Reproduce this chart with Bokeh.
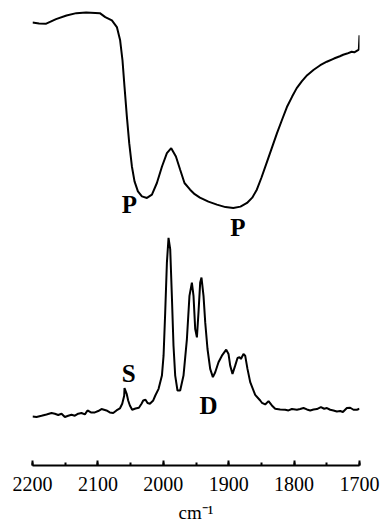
from bokeh.plotting import figure
from bokeh.models import Range1d, SingleIntervalTicker, ColumnDataSource, Title
from bokeh.core.properties import value
from bokeh.embed import file_html
from bokeh.resources import INLINE

# ---- data (arbitrary intensity units) ----
top_wn = [2200, 2190, 2179, 2164, 2148, 2133, 2118, 2097, 2088.7, 2078.6, 2071, 2066,
          2062.4, 2059.3, 2055.7, 2052.1, 2048, 2044, 2038.8, 2032.7, 2025, 2017.4,
          2009.8, 2002, 1994.5, 1987.9, 1980.7, 1974.2, 1967.6, 1959, 1952, 1944,
          1931, 1918, 1905, 1893, 1882, 1872, 1864, 1857, 1850, 1842, 1834, 1826,
          1818, 1811, 1803, 1796, 1788, 1780, 1770, 1760, 1750, 1739, 1730, 1725,
          1719, 1712, 1708, 1701, 1700]
top_val = [445, 444, 443.7, 448.3, 452, 454.3, 455, 454.3, 450.3, 447, 440.3, 427,
           407, 380.3, 350.3, 323.7, 300.3, 285.3, 275.3, 270.3, 268.7, 272,
           283.7, 300.3, 313.7, 318.7, 310.3, 297, 283.7, 277, 272.5, 269,
           265, 262, 259.5, 258.7, 260, 263.7, 269, 277, 289, 304, 319, 334,
           348, 360, 370.5, 379, 386, 392, 397.5, 402, 405.5, 408.7, 411, 412.5,
           413.7, 415.5, 415, 417.7, 432]

bot_wn = [2200, 2193.9, 2186.2, 2178.6, 2170.9, 2165.8, 2160.7, 2155.6, 2150.5, 2145.4,
          2140.4, 2135.2, 2130.1, 2125.1, 2119.9, 2115.9, 2110.7, 2104.6, 2099.5, 2094.5,
          2086.9, 2081.8, 2076.6, 2071.6, 2066.4, 2062.8, 2059.8, 2059.3, 2056, 2053.7,
          2051.1, 2047.6, 2042.5, 2037.3, 2033.3, 2030.7, 2027.2, 2024.1, 2020.5, 2015.4,
          2012.2, 2007.2, 2002.1, 1999.6, 1997.1, 1994.5, 1992, 1989.4, 1986.9, 1984.4,
          1981.8, 1978.3, 1974.2, 1969.1, 1963.9, 1960, 1956.3, 1953.8, 1951.2, 1948.6,
          1946.2, 1943.6, 1941.6, 1938.5, 1935.9, 1932.4, 1928.3, 1924.2, 1920.6, 1915.6,
          1910.4, 1903.8, 1900.3, 1897.7, 1894.2, 1890.1, 1886.5, 1883.5, 1881.3, 1877.4,
          1874.8, 1871.3, 1867.1, 1859.5, 1851.8, 1849.2, 1844.2, 1839.1, 1834, 1828.9,
          1821.3, 1813.6, 1808.6, 1803.4, 1795.7, 1790.7, 1785.6, 1780.4, 1775.4, 1770.3,
          1765.1, 1759, 1754, 1749.8, 1744.8, 1739.8, 1734.6, 1729.5, 1725.4, 1719.3,
          1714.2, 1709.2, 1704, 1700]
bot_val = [49.3, 48.7, 50, 51.3, 52.7, 52, 50.7, 52, 48.7, 50,
           51, 50, 52, 52.7, 51.3, 55.3, 53.3, 53.3, 54.7, 56.7,
           55.3, 53.3, 52.7, 55.3, 57.3, 62, 70, 77.7, 72, 65.3,
           60.3, 56, 57.3, 58, 62, 65.3, 66, 62.7, 62, 65.3,
           70.3, 77, 90.3, 110.3, 153.7, 203.7, 228.7, 217, 170.3, 120.3,
           90.3, 75.3, 75.3, 90.3, 127, 170.3, 183.7, 170.3, 137, 128.7,
           153.7, 183.7, 188.7, 170.3, 143.7, 117, 97, 88.7, 93.7, 103.7,
           110.3, 116.3, 112, 100.3, 92, 100.3, 108, 108.7, 107, 112,
           110.3, 97, 83.7, 71, 65.3, 63, 61.3, 64.7, 60.3, 57,
           56.3, 56, 55.3, 56.7, 56, 56.7, 57.7, 56.3, 55.3, 56.3,
           56.7, 58.7, 57, 57.7, 56, 55.3, 54.3, 54.7, 53.7, 57.7,
           58, 56, 56, 57]

label_text = ["P", "P", "S", "D"]
label_wn = [2052, 1886, 2053, 1931]
label_val = [262, 239.5, 92, 60.5]

axis_title = "cm\u207b\u00b9"

tick_start, tick_end, tick_step = 2200, 1700, 100

# ---- figure ----
p = figure(width=380, height=529, output_backend="svg", toolbar_location=None,
           x_range=Range1d(tick_start, tick_end), y_range=Range1d(0, 467),
           y_axis_location=None, min_border_left=32, min_border_right=21,
           min_border_top=0, min_border_bottom=62)
p.outline_line_color = None
p.grid.visible = False
p.background_fill_color = "white"
p.border_fill_color = "white"

p.line(top_wn, top_val, line_color="black", line_width=2)
p.line(bot_wn, bot_val, line_color="black", line_width=2)

src = ColumnDataSource(dict(x=label_wn, y=label_val, t=label_text))
p.text(x="x", y="y", text="t", source=src, text_font=value("Liberation Serif"),
       text_font_style="bold", text_font_size="25px", text_align="center",
       text_baseline="middle", text_color="black")

ax = p.xaxis[0]
ax.ticker = SingleIntervalTicker(interval=tick_step, num_minor_ticks=2)
ax.axis_line_width = 2
ax.axis_line_color = "black"
ax.major_tick_in = 5
ax.major_tick_out = 0
ax.minor_tick_in = 3
ax.minor_tick_out = 0
ax.major_tick_line_width = 2
ax.minor_tick_line_width = 2
ax.major_label_text_font = "Liberation Serif"
ax.major_label_text_font_size = "20px"
ax.major_label_text_color = "black"
ax.major_label_standoff = 11

p.add_layout(Title(text=axis_title, align="center", text_font="Liberation Serif",
                   text_font_size="19px", text_font_style="normal",
                   text_color="black", standoff=13, text_line_height=0.5,
                   vertical_align="bottom"), "below")

open("out.html", "w").write(file_html(p, INLINE))
